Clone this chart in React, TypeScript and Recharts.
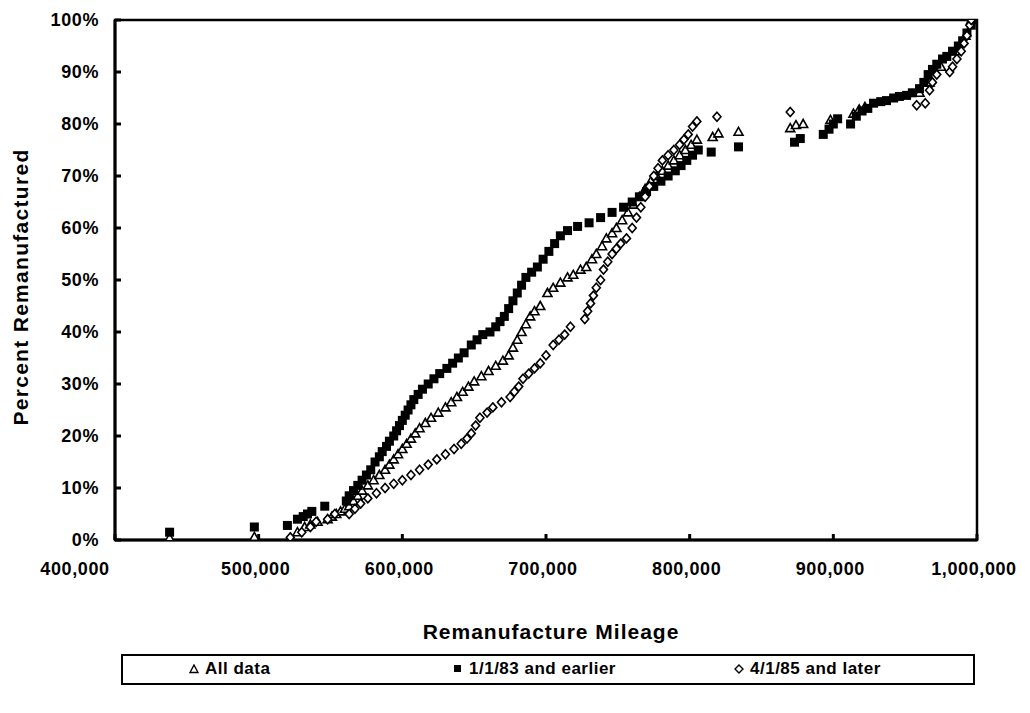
import React from 'react';
import { ScatterChart, Scatter, XAxis, YAxis, ReferenceArea } from 'recharts';

// [mileage, percent remanufactured]
const allData: [number, number][] = [
  [438000, 0.4], [497000, 0.6], [522000, 0.4], [527000, 1.5], [532000, 2.5], [536000, 3], [541000, 3.5],
  [548000, 4], [551000, 4.5], [554000, 5], [557000, 5.5], [560000, 6], [563000, 6.5], [566000, 7.5],
  [569000, 8.5], [572000, 9.5], [576000, 10.5], [580000, 11.5], [584000, 12.5], [588000, 13.5],
  [591000, 14.5], [594000, 15.5], [597000, 16.5], [600000, 17.5], [603000, 18.5], [606000, 19.5],
  [609000, 20.5], [612000, 21.5], [616000, 22.5], [620000, 23.5], [625000, 24.5], [630000, 25.5],
  [634000, 26.5], [638000, 27.5], [642000, 28.5], [646000, 29.5], [650000, 30.5], [655000, 31.5],
  [660000, 32.5], [665000, 33.5], [670000, 34.5], [674000, 35.5], [677000, 37], [680000, 38.5],
  [683000, 40], [686000, 41.5], [689000, 43], [692000, 44], [696000, 45], [701000, 47.5],
  [705000, 48.5], [710000, 49.5], [715000, 50.5], [719000, 51], [724000, 52], [728000, 52.5],
  [732000, 54], [735000, 55], [739000, 56.5], [742000, 58], [746000, 59], [749000, 60],
  [753000, 61.5], [757000, 63], [761000, 64.5], [765000, 66], [769000, 67.5], [773000, 69],
  [777000, 70], [781000, 71], [785000, 72], [789000, 73], [793000, 74], [797000, 75], [801000, 76],
  [805000, 77], [816000, 77.5], [820000, 78.2], [834000, 78.5], [870000, 79.2], [874000, 79.8],
  [879000, 80], [898000, 80.8], [914000, 82], [918000, 82.8], [922000, 83.3], [960000, 86],
  [967000, 88], [975000, 91], [985000, 94], [992000, 97], [996000, 100],
];

const before83: [number, number][] = [
  [438000, 1.5], [497000, 2.5], [520000, 2.8], [527000, 4], [531000, 4.5], [534000, 5], [537000, 5.5],
  [546000, 6.5], [561000, 7.5], [563000, 8.5], [566000, 9.5], [569000, 10.5], [572000, 11.5],
  [575000, 12.5], [578000, 13.5], [581000, 15], [584000, 16], [586000, 17], [589000, 18], [591000, 19],
  [594000, 20], [596000, 21], [598000, 22], [600000, 23], [602000, 24], [604000, 25], [606000, 26],
  [608000, 27], [611000, 28], [614000, 29], [618000, 30], [622000, 31], [626000, 32], [631000, 33],
  [635000, 34], [639000, 35], [643000, 36], [648000, 37.5], [652000, 38.5], [656000, 39.5],
  [661000, 40], [665000, 41], [668000, 42], [671000, 43], [674000, 44.5], [677000, 46], [680000, 47.5],
  [683000, 49], [686000, 50.5], [690000, 51.5], [694000, 52.5], [698000, 54], [702000, 55.5],
  [706000, 57], [710000, 58.5], [715000, 59.5], [722000, 60.3], [730000, 61], [738000, 62],
  [746000, 63], [754000, 64], [760000, 65], [765000, 66], [770000, 67], [775000, 68], [780000, 69],
  [785000, 70], [790000, 71], [794000, 72], [798000, 73], [802000, 74], [806000, 75], [815000, 74.6],
  [834000, 75.6], [873000, 76.5], [877000, 77.2], [893000, 78], [897000, 79], [900000, 80],
  [903000, 81], [912000, 80], [916000, 81.5], [920000, 82.5], [924000, 83], [928000, 84],
  [933000, 84.3], [937000, 84.5], [942000, 85], [946000, 85.3], [951000, 85.5], [955000, 86],
  [960000, 86.8], [963000, 88], [966000, 89.5], [969000, 90.5], [972000, 91.5], [976000, 92.5],
  [979000, 93], [983000, 94], [987000, 95], [990000, 96], [993000, 97.5], [996000, 99],
];

const after85: [number, number][] = [
  [522000, 0.5], [530000, 1.5], [536000, 2.5], [540000, 3.5], [548000, 4], [553000, 5], [563000, 5],
  [567000, 6], [571000, 7], [576000, 8], [582000, 9], [588000, 10], [594000, 10.8], [600000, 11.5],
  [606000, 12.5], [612000, 13.5], [618000, 14.5], [624000, 15.5], [630000, 16.5], [636000, 17.5],
  [641000, 18.5], [645000, 19.5], [648000, 20.5], [651000, 22], [654000, 23.5], [659000, 24.5],
  [663000, 25.5], [669000, 26.5], [675000, 27.5], [678000, 28.5], [681000, 29.5], [684000, 31],
  [688000, 32], [692000, 33], [696000, 34], [700000, 35.5], [705000, 37.5], [709000, 38.5],
  [713000, 39.5], [717000, 41], [727000, 42.5], [729000, 44], [731000, 45.5], [733000, 47],
  [735000, 48.5], [738000, 50], [740000, 52], [743000, 53.5], [746000, 55], [749000, 56],
  [752000, 57], [756000, 58], [760000, 60], [763000, 62], [766000, 64], [769000, 66], [772000, 68],
  [775000, 70], [778000, 71.5], [781000, 73], [785000, 74], [789000, 75], [793000, 76], [796000, 77],
  [799000, 78], [802000, 79.5], [805000, 80.5], [819000, 81.4], [870000, 82.3], [958000, 83.6],
  [964000, 84], [967000, 86.5], [969000, 88], [972000, 89.5], [981000, 90], [983000, 91],
  [986000, 92.5], [989000, 94], [991000, 95.5], [993000, 97], [995000, 99], [996000, 100],
];

const xTicks = [400000, 500000, 600000, 700000, 800000, 900000, 1000000];
const yTicks = [0, 10, 20, 30, 40, 50, 60, 70, 80, 90, 100];

const toPoints = (rows: [number, number][]) => rows.map(([x, y]) => ({ x, y }));

const FONT = '"Liberation Sans", Arial, sans-serif';

const TriangleMark = (props: any) => {
  const { cx, cy } = props;
  return <path d={`M${cx},${cy - 4.5}L${cx + 4.5},${cy + 3.5}L${cx - 4.5},${cy + 3.5}Z`} fill="#fff" stroke="#000" strokeWidth={1.6} />;
};

const SquareMark = (props: any) => {
  const { cx, cy } = props;
  return <rect x={cx - 4.5} y={cy - 4.5} width={9} height={9} fill="#000" />;
};

const DiamondMark = (props: any) => {
  const { cx, cy } = props;
  return <path d={`M${cx},${cy - 4.5}L${cx + 4},${cy}L${cx},${cy + 4.5}L${cx - 4},${cy}Z`} fill="#fff" stroke="#000" strokeWidth={1.6} />;
};

const tickStyle = { fontFamily: FONT, fontSize: 18, fontWeight: 700, fill: '#000', letterSpacing: 0.6 };

// the first mileage label sits left of the axis corner, as in the original
const MileageTick = (props: any) => {
  const { x, y, payload } = props;
  const shift = payload.value === 400000 ? -40 : -3;
  return (
    <text x={x + shift} y={y} dy={13} textAnchor="middle" {...tickStyle}>
      {Number(payload.value).toLocaleString('en-US')}
    </text>
  );
};

export default function App() {
  return (
    <div style={{ position: 'relative', width: 1030, height: 713, background: '#fff', fontFamily: FONT }}>
      <style>{'body{margin:0}'}</style>
      <ScatterChart width={1030} height={713} margin={{ top: 20, right: 53, bottom: 133, left: 55 }}>
        <XAxis
          type="number"
          dataKey="x"
          domain={[400000, 1000000]}
          ticks={xTicks}
          height={40}
          tickSize={-6}
          tickMargin={28}
          tick={<MileageTick />}
          axisLine={{ stroke: '#000', strokeWidth: 3 }}
          tickLine={{ stroke: '#000', strokeWidth: 3 }}
          allowDataOverflow
        />
        <YAxis
          type="number"
          dataKey="y"
          domain={[0, 100]}
          ticks={yTicks}
          width={60}
          tickSize={-6}
          tickMargin={22}
          tickFormatter={(v: number) => `${v}%`}
          tick={tickStyle}
          axisLine={{ stroke: '#000', strokeWidth: 3 }}
          tickLine={{ stroke: '#000', strokeWidth: 3 }}
          allowDataOverflow
        />
        <ReferenceArea x1={400000} x2={1000000} y1={0} y2={100} fill="none" stroke="#000" strokeWidth={2.5} fillOpacity={0} />
        <Scatter name="All data" data={toPoints(allData)} shape={TriangleMark} isAnimationActive={false} />
        <Scatter name="1/1/83 and earlier" data={toPoints(before83)} shape={SquareMark} isAnimationActive={false} />
        <Scatter name="4/1/85 and later" data={toPoints(after85)} shape={DiamondMark} isAnimationActive={false} />
      </ScatterChart>

      <div
        style={{
          position: 'absolute', left: 21, top: 287, transform: 'translate(-50%, -50%) rotate(-90deg)',
          whiteSpace: 'nowrap', fontSize: 21, fontWeight: 700, letterSpacing: 1.3,
        }}
      >
        Percent Remanufactured
      </div>
      <div
        style={{
          position: 'absolute', left: 551, top: 632, transform: 'translate(-50%, -50%)',
          whiteSpace: 'nowrap', fontSize: 21, fontWeight: 700, letterSpacing: 1,
        }}
      >
        Remanufacture Mileage
      </div>

      <div
        style={{
          position: 'absolute', left: 121, top: 654, width: 850, height: 27, border: '2px solid #000',
          fontSize: 17, fontWeight: 700, letterSpacing: 0.5,
        }}
      >
        <div style={{ position: 'absolute', left: 66, top: 3, display: 'flex', alignItems: 'center', gap: 6 }}>
          <svg width={10} height={10}><path d="M5,1L9,8.5L1,8.5Z" fill="#fff" stroke="#000" strokeWidth={1.4} /></svg>
          <span>All data</span>
        </div>
        <div style={{ position: 'absolute', left: 330, top: 3, display: 'flex', alignItems: 'center', gap: 6 }}>
          <svg width={10} height={10}><rect x={1} y={1} width={7} height={7} fill="#000" /></svg>
          <span>1/1/83 and earlier</span>
        </div>
        <div style={{ position: 'absolute', left: 611, top: 3, display: 'flex', alignItems: 'center', gap: 6 }}>
          <svg width={10} height={10}><path d="M5,1L9,5L5,9L1,5Z" fill="#fff" stroke="#000" strokeWidth={1.4} /></svg>
          <span>4/1/85 and later</span>
        </div>
      </div>
    </div>
  );
}
